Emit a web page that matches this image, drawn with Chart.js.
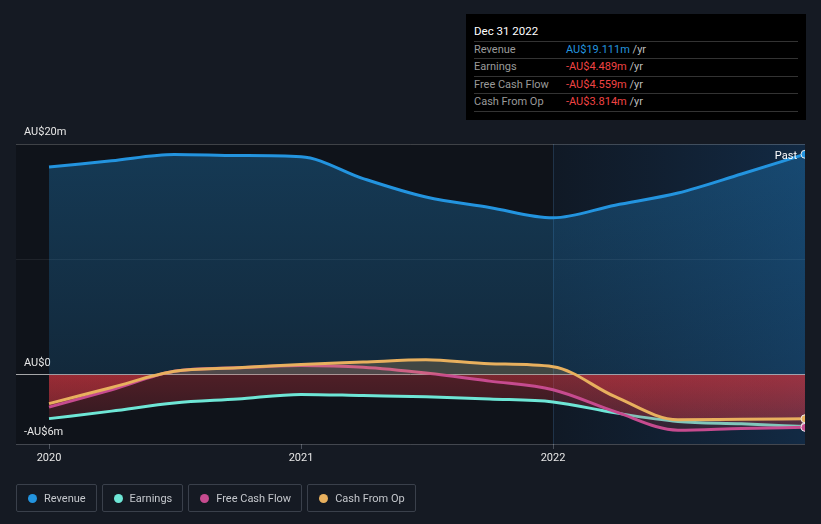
<!DOCTYPE html>
<html>
<head>
<meta charset="utf-8">
<script src="https://cdn.jsdelivr.net/npm/chart.js@4.4.1/dist/chart.umd.min.js"></script>
<style>
  html, body { margin: 0; padding: 0; background: #151a23; }
  body { width: 821px; height: 524px; position: relative; overflow: hidden; font-family: Roboto, "Noto Sans", sans-serif; }
  #wrap { position: absolute; left: 0; top: 0; width: 821px; height: 524px; }
  #tip { position: absolute; left: 466px; top: 14px; width: 340px; height: 106px; background: #000; box-sizing: border-box; }
  #tip .title { position: absolute; left: 8px; top: 9px; font-size: 11.5px; color: #fff; line-height: 16px; }
  #tip .row { position: absolute; left: 8px; width: 324px; height: 17px; border-top: 1px solid #333; font-size: 11px; line-height: 16px; color: #9a9a9a; }
  #tip .row .v { position: absolute; left: 92px; top: 0; }
  #tip .row .u { color: #bdbdbd; }
  .blue { color: #2394df; }
  .red { color: #f04444; }
  #legend { position: absolute; left: 16px; top: 484px; display: flex; gap: 5px; }
  #legend .item { box-sizing: border-box; height: 28px; border: 1px solid #3a404b; border-radius: 2px; display: flex; align-items: center; padding: 0 10px 0 11px; font-size: 11px; color: #c4c7cc; }
  #legend .dot { width: 9px; height: 9px; border-radius: 50%; margin-right: 7px; }
</style>
</head>
<body>
<div id="wrap"><canvas id="c" width="821" height="524"></canvas></div>
<div id="tip">
  <div class="title">Dec 31 2022</div>
  <div class="row" style="top:27px">Revenue<span class="v"><span class="blue">AU$19.111m</span> <span class="u">/yr</span></span></div>
  <div class="row" style="top:44px">Earnings<span class="v"><span class="red">-AU$4.489m</span> <span class="u">/yr</span></span></div>
  <div class="row" style="top:62px">Free Cash Flow<span class="v"><span class="red">-AU$4.559m</span> <span class="u">/yr</span></span></div>
  <div class="row" style="top:79px; border-bottom:1px solid #333;">Cash From Op<span class="v"><span class="red">-AU$3.814m</span> <span class="u">/yr</span></span></div>
</div>
<div id="legend"></div>
<script>
// ---- data ----
const periods = ['2019-12-31','2020-03-31','2020-06-30','2020-09-30','2020-12-31','2021-03-31','2021-06-30','2021-09-30','2021-12-31','2022-03-31','2022-06-30','2022-09-30','2022-12-31'];
const revenue = [18.0, 18.55, 19.1, 19.0, 18.9, 17.0, 15.4, 14.5, 13.6, 14.7, 15.75, 17.4, 19.111];
const earnings = [-3.8, -3.15, -2.45, -2.1, -1.7, -1.8, -1.9, -2.1, -2.35, -3.3, -4.05, -4.25, -4.489];
const freeCashFlow = [-2.8, -1.3, 0.3, 0.6, 0.8, 0.65, 0.15, -0.55, -1.3, -3.2, -4.8, -4.65, -4.559];
const cashFromOp = [-2.5, -1.1, 0.3, 0.6, 0.9, 1.1, 1.3, 0.95, 0.7, -1.9, -3.9, -3.85, -3.814];
const yTickValues = [-6, 0, 10, 20];
const yTickLabels = ['-AU$6m', 'AU$0', '', 'AU$20m'];
const xTickValues = [2020, 2021, 2022];
const seriesNames = ['Revenue', 'Earnings', 'Free Cash Flow', 'Cash From Op'];
const seriesColors = ['#2394df', '#6ee6d6', '#c64b8f', '#e8b05e'];
const pastStart = 2022;

function toYear(s) {
  const [y, m, d] = s.split('-').map(Number);
  return y + (Date.UTC(y, m - 1, d + 1) - Date.UTC(y, 0, 1)) / (Date.UTC(y + 1, 0, 1) - Date.UTC(y, 0, 1));
}
const xs = periods.map(toYear);
const pts = arr => arr.map((v, i) => ({ x: xs[i], y: v }));
const last = xs.length - 1;

// legend
const lg = document.getElementById('legend');
seriesNames.forEach((n, i) => {
  const it = document.createElement('div'); it.className = 'item';
  it.innerHTML = '<span class="dot" style="background:' + seriesColors[i] + '"></span>' + n;
  lg.appendChild(it);
});

Chart.defaults.font.family = 'Roboto, "Noto Sans", sans-serif';

const bgPlugin = {
  id: 'bg',
  beforeDraw(chart) {
    const { ctx, chartArea: a, scales } = chart;
    ctx.save();
    ctx.fillStyle = '#0f131a';
    ctx.fillRect(a.left, a.top, a.right - a.left, a.bottom - a.top);
    const px = scales.x.getPixelForValue(pastStart);
    const g = ctx.createLinearGradient(px, 0, a.right, 0);
    g.addColorStop(0, 'rgba(25,80,140,0.10)');
    g.addColorStop(1, 'rgba(25,95,165,0.30)');
    ctx.fillStyle = g;
    ctx.fillRect(px, a.top, a.right - px, a.bottom - a.top);
    ctx.strokeStyle = 'rgba(60,100,140,0.35)';
    ctx.lineWidth = 1;
    ctx.beginPath(); ctx.moveTo(Math.round(px) + 0.5, a.top); ctx.lineTo(Math.round(px) + 0.5, a.bottom); ctx.stroke();
    ctx.restore();
  },
  afterDatasetsDraw(chart) {
    const { ctx, scales } = chart;
    ctx.save();
    ctx.font = '11px Roboto, "Noto Sans", sans-serif';
    ctx.fillStyle = '#ffffff';
    ctx.textAlign = 'right';
    ctx.textBaseline = 'middle';
    ctx.fillText('Past', scales.x.getPixelForValue(xs[last]) - 8, scales.y.getPixelForValue(revenue[last]) + 2);
    ctx.restore();
  }
};

function ds(label, data, color, order) {
  return {
    label, data: pts(data), borderColor: color, borderWidth: 3,
    backgroundColor: 'rgba(0,0,0,0)',
    fill: { target: 'origin', above: 'rgba(0,0,0,0)', below: 'rgba(0,0,0,0)' },
    cubicInterpolationMode: 'monotone',
    pointRadius: c => c.dataIndex === last ? 4 : 0,
    pointHoverRadius: 0,
    pointBackgroundColor: color,
    pointBorderColor: '#e8e8e8',
    pointBorderWidth: 1,
    order
  };
}

const chart = new Chart(document.getElementById('c'), {
  type: 'line',
  data: {
    datasets: [
      ds(seriesNames[0], revenue, seriesColors[0], 4),
      ds(seriesNames[1], earnings, seriesColors[1], 3),
      ds(seriesNames[2], freeCashFlow, seriesColors[2], 2),
      ds(seriesNames[3], cashFromOp, seriesColors[3], 1)
    ]
  },
  options: {
    responsive: false,
    animation: false,
    events: [],
    layout: { padding: { left: 16, right: 16, top: 144, bottom: 54 } },
    plugins: { legend: { display: false }, tooltip: { enabled: false } },
    scales: {
      x: {
        type: 'linear', min: 2019.869, max: 2023.0,
        afterBuildTicks: s => { s.ticks = xTickValues.map(v => ({ value: v })); },
        afterFit: s => { s.height = 26; },
        ticks: { callback: v => String(v), color: '#e6e6e6', font: { size: 11 }, padding: 3, maxRotation: 0, autoSkip: false },
        grid: { drawOnChartArea: false, drawTicks: true, tickLength: 5, color: '#4a505b' },
        border: { display: false }
      },
      y: {
        type: 'linear', min: -6, max: 20,
        afterBuildTicks: s => { s.ticks = yTickValues.map(v => ({ value: v })); },
        afterFit: s => { s.width = 0; },
        ticks: {
          mirror: true, padding: 8, labelOffset: -12,
          color: '#e6e6e6', font: { size: 11 },
          callback: v => yTickLabels[yTickValues.indexOf(v)]
        },
        grid: {
          drawTicks: false,
          color: c => c.tick.value === 0 ? 'rgba(230,230,230,0.7)' : (c.tick.value === 10 ? 'rgba(255,255,255,0.07)' : 'rgba(255,255,255,0.2)'),
          lineWidth: 1
        },
        border: { display: false }
      }
    }
  },
  plugins: [bgPlugin]
});

// gradients built from the laid-out scales
(function () {
  const ctx = chart.ctx, a = chart.chartArea, y = chart.scales.y;
  const y0 = y.getPixelForValue(0);
  const revG = ctx.createLinearGradient(0, a.top, 0, y0);
  revG.addColorStop(0, 'rgba(35,148,223,0.30)');
  revG.addColorStop(1, 'rgba(35,148,223,0.17)');
  const redG = () => {
    const g = ctx.createLinearGradient(0, y0, 0, a.bottom);
    g.addColorStop(0, 'rgba(215,55,65,0.32)');
    g.addColorStop(1, 'rgba(215,55,65,0.12)');
    return g;
  };
  const d = chart.data.datasets;
  d[0].fill = { target: 'origin', above: revG, below: 'rgba(0,0,0,0)' };
  d[1].fill = { target: 'origin', above: 'rgba(0,0,0,0)', below: redG() };
  d[2].fill = { target: 'origin', above: 'rgba(198,75,143,0.10)', below: redG() };
  d[3].fill = { target: 'origin', above: 'rgba(232,176,94,0.22)', below: redG() };
  chart.update('none');
})();
</script>
</body>
</html>
